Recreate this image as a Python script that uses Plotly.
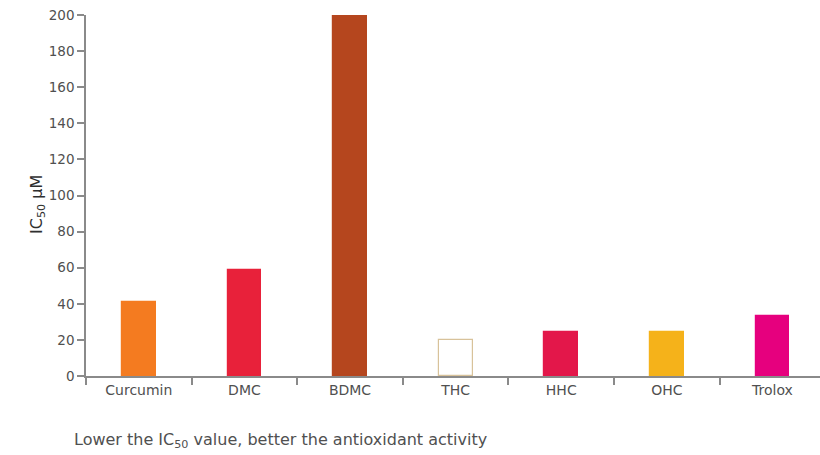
import plotly.graph_objects as go

# IC50 values (µM) for curcumin analogues and the Trolox reference
compounds = ["Curcumin", "DMC", "BDMC", "THC", "HHC", "OHC", "Trolox"]
ic50_values = [41, 59, 200, 20, 24.5, 24.5, 33]
fill_colors = ["#F47B20", "#E8213A", "#B5461E", "#FFFFFF", "#E3174A", "#F5B21A", "#E6007E"]
edge_colors = ["#F47B20", "#E8213A", "#B5461E", "#D8C29A", "#E3174A", "#F5B21A", "#E6007E"]
y_ticks = [0, 20, 40, 60, 80, 100, 120, 140, 160, 180, 200]

FONT = "DejaVu Sans"
TEXT = "#505050"
AXIS = "#8a8a8a"

fig = go.Figure(
    go.Bar(
        x=compounds,
        y=ic50_values,
        width=0.32,
        marker=dict(color=fill_colors, line=dict(color=edge_colors, width=1.2)),
        hoverinfo="x+y",
    )
)

L, R, T, B = 86, 0, 15, 79
W, H = 820, 455
plot_w = W - L - R
plot_h = H - T - B

fig.update_layout(
    width=W,
    height=H,
    margin=dict(l=L, r=R, t=T, b=B),
    plot_bgcolor="white",
    paper_bgcolor="white",
    showlegend=False,
    font=dict(family=FONT, color=TEXT, size=13),
    bargap=0,
)

fig.update_xaxes(
    range=[-0.5, 6.45],
    showline=True,
    linecolor=AXIS,
    linewidth=1.5,
    ticks="outside",
    tickson="boundaries",
    ticklen=7,
    tickcolor=AXIS,
    tickwidth=1.5,
    showgrid=False,
    tickfont=dict(family=FONT, size=14, color=TEXT),
)

fig.update_yaxes(
    range=[0, 200],
    tickvals=y_ticks,
    showline=True,
    linecolor=AXIS,
    linewidth=1.5,
    ticks="outside",
    ticklen=7,
    tickcolor=AXIS,
    tickwidth=1.5,
    showgrid=False,
    zeroline=False,
    tickfont=dict(family=FONT, size=13.5, color=TEXT),
)

# Rotated y-axis title with subscript
fig.add_annotation(
    text="IC<sub>50</sub> µM",
    xref="paper", yref="paper",
    x=(37 - L) / plot_w, y=(T + plot_h - 205) / plot_h,
    xanchor="center", yanchor="middle",
    textangle=-90,
    showarrow=False,
    font=dict(family=FONT, size=16, color="#2f2f2f"),
)

# Footnote below the chart
fig.add_annotation(
    text="Lower the IC<sub>50</sub> value, better the antioxidant activity",
    xref="paper", yref="paper",
    x=(72 - L) / plot_w, y=(T + plot_h - 440) / plot_h,
    xanchor="left", yanchor="middle",
    showarrow=False,
    font=dict(family=FONT, size=16, color=TEXT),
)

fig.write_html("out.html")
